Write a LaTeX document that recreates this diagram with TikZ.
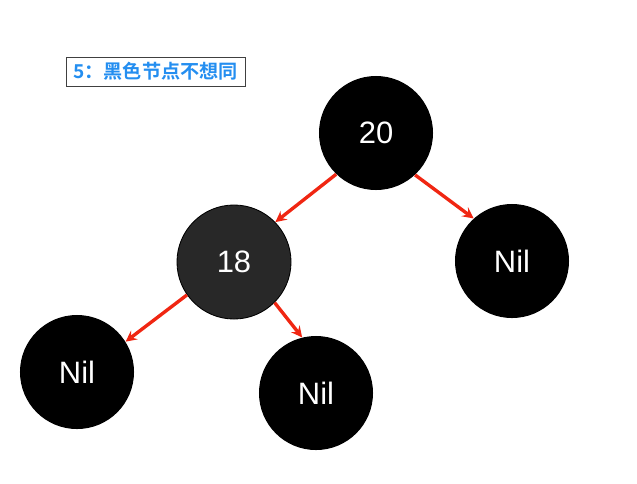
\documentclass[tikz,border=0pt]{standalone}
\usepackage{fontspec}
\setmainfont{Liberation Sans}
\newfontfamily\cjkfont{Noto Sans CJK SC}[BoldFont={Noto Sans CJK SC Bold}]
\usetikzlibrary{arrows,positioning}
\definecolor{arrowred}{RGB}{240,38,18}
\definecolor{titleblue}{RGB}{36,142,240}
\definecolor{darknode}{RGB}{40,40,40}
\tikzstyle{rbNode} = [circle, minimum size=2.85cm, inner sep=0pt, text=white, font=\fontsize{22}{26}\selectfont]
\tikzstyle{blackNode} = [rbNode, fill=black]
\tikzstyle{greyNode} = [rbNode, fill=darknode, draw=black, line width=0.6pt]
\tikzstyle{titleNode} = [rectangle, draw=black!75, line width=0.6pt, minimum width=4.475cm, minimum height=0.725cm, inner sep=0pt, text=titleblue, font=\cjkfont\bfseries\fontsize{13.6}{15}\selectfont]
\tikzstyle{arrowR} = [line width=2.4pt,->,>=stealth,draw=arrowred]

\begin{document}
\begin{tikzpicture}[x=0.025cm,y=-0.025cm]
    \useasboundingbox (0,0) rectangle (637,483);
    \node (title) [titleNode] at (155.5,71.5) {5：黑色节点不想同};
    \node (n20) [blackNode] at (376,133) {20};
    \node (n18) [greyNode] at (234,262) {18};
    \node (nilR) [blackNode] at (512,261) {Nil};
    \node (nilL) [blackNode] at (77,372) {Nil};
    \node (nilM) [blackNode] at (316,393) {Nil};

    \draw [arrowR] (n20.226) -- (n18.44);
    \draw [arrowR] (n20.313) -- (nilR.132);
    \draw [arrowR] (n18.215) -- (nilL.32);
    \draw [arrowR] (n18.315) -- (nilM.104);
\end{tikzpicture}
\end{document}
